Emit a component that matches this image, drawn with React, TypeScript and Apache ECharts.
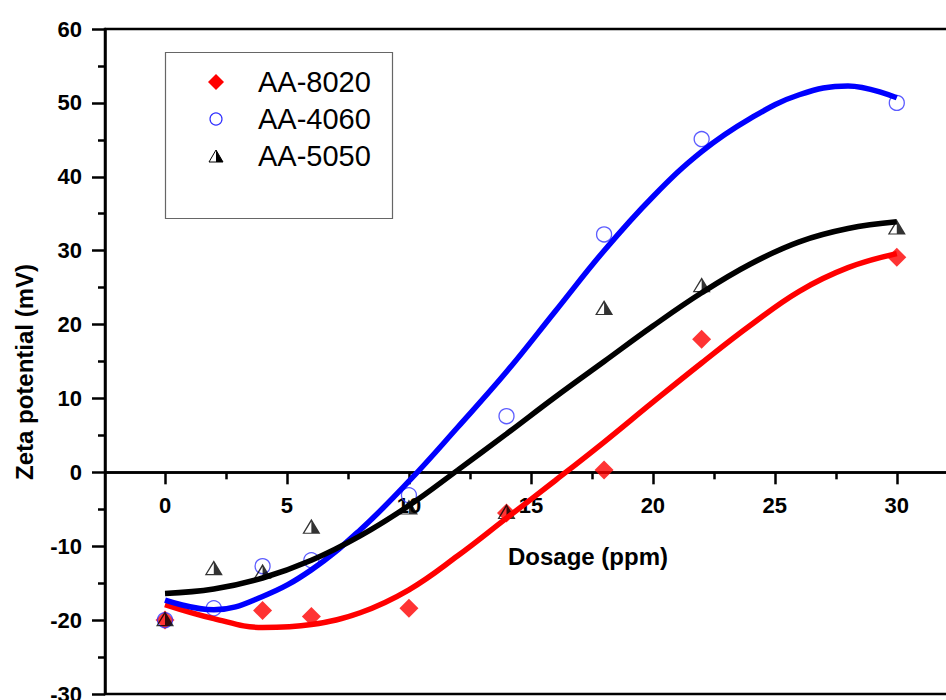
import React, { useEffect, useRef } from "react";
import * as echarts from "echarts";

// Measured points
const dose8020 = [0, 4, 6, 10, 14, 18, 22, 30];
const zeta8020 = [-20, -18.7, -19.5, -18.4, -5.5, 0.3, 18, 29.1];
const dose4060 = [0, 2, 4, 6, 10, 14, 18, 22, 30];
const zeta4060 = [-20, -18.4, -12.7, -11.9, -3.1, 7.6, 32.2, 45.1, 50.0];
const dose5050 = [0, 2, 4, 6, 10, 14, 18, 22, 30];
const zeta5050 = [-19.8, -12.9, -13.4, -7.3, -4.7, -5.3, 22.3, 25.4, 33.2];

// Fitted curves
const fitDose = [0, 2, 4, 6, 8, 10, 12, 14, 16, 18, 20, 22, 24, 26, 28, 30];
const fit8020 = [-17.9, -19.8, -21.0, -20.6, -19.0, -15.9, -11.3, -6.2, -1.1, 4.1, 9.5, 14.8, 19.9, 24.5, 27.7, 29.6];
const fit4060 = [-17.3, -18.6, -16.8, -13.2, -7.8, -1.2, 6.1, 13.6, 21.8, 30.0, 37.3, 43.4, 47.9, 51.1, 52.3, 50.7];
const fit5050 = [-16.4, -15.8, -14.3, -11.9, -8.6, -4.5, 0.3, 5.2, 10.2, 15.0, 19.8, 24.3, 28.2, 31.2, 33.0, 33.9];

const xMajor = [0, 5, 10, 15, 20, 25, 30];
const xMinor = [2.5, 7.5, 12.5, 17.5, 22.5, 27.5];
const yMin = -30;
const yMax = 60;
const seriesNames = ["AA-8020", "AA-4060", "AA-5050"];

const FONT = "'Liberation Sans', Arial, Helvetica, sans-serif";
const HALF_TRI =
  "path://M10,0 L20,20 L0,20 Z M10,3.8 L2.4,18.6 L10,18.6 Z";

const pairs = (xs: number[], ys: number[]) => xs.map((x, i) => [x, ys[i]]);

export default function App() {
  const ref = useRef<HTMLDivElement>(null);
  useEffect(() => {
    if (!ref.current) return;
    const chart = echarts.init(ref.current, undefined, { renderer: "svg" });
    const axisLabel = {
      color: "#000",
      fontFamily: FONT,
      fontWeight: "bold" as const,
      fontSize: 22,
    };
    const lineStyle = { color: "#000", width: 2.5 };
    const xMin = -2.46;
    const xMax = 32.14;
    const gridTop = 29;
    const gridBottom = 6;
    const plotH = 700 - gridTop - gridBottom;
    // move the x axis from the bottom edge up to the y = 0 line
    const zeroOffset = -(plotH * (0 - yMin)) / (yMax - yMin);
    chart.setOption({
      animation: false,
      backgroundColor: "#fff",
      grid: {
        left: 105,
        right: -3,
        top: gridTop,
        bottom: gridBottom,
        show: true,
        borderColor: "#000",
        borderWidth: 2.5,
        containLabel: false,
        outerBoundsMode: "none",
      },
      xAxis: [
        {
          type: "value",
          position: "bottom",
          offset: zeroOffset,
          min: xMin,
          max: xMax,
          axisLine: { show: true, onZero: false, lineStyle },
          axisTick: { show: true, length: 12, customValues: xMajor, lineStyle },
          axisLabel: { ...axisLabel, margin: 22, customValues: xMajor },
          splitLine: { show: false },
        },
        {
          type: "value",
          position: "bottom",
          offset: zeroOffset,
          min: xMin,
          max: xMax,
          axisLine: { show: true, onZero: false, lineStyle },
          axisTick: { show: true, length: 7, customValues: xMinor, lineStyle },
          axisLabel: { show: false },
          splitLine: { show: false },
        },
      ],
      yAxis: {
        type: "value",
        min: yMin,
        max: yMax,
        interval: 10,
        axisLine: { show: true, onZero: false, lineStyle },
        axisTick: { show: true, length: 13, lineStyle },
        minorTick: { show: true, splitNumber: 2, length: 7, lineStyle },
        axisLabel: { ...axisLabel, margin: 23 },
        splitLine: { show: false },
      },
      graphic: [
        {
          type: "text",
          x: 24,
          y: 372,
          rotation: Math.PI / 2,
          style: {
            text: "Zeta potential (mV)",
            fontFamily: FONT,
            fontWeight: "bold",
            fontSize: 24,
            fill: "#000",
            align: "center",
            verticalAlign: "middle",
          },
        },
        {
          type: "text",
          x: 588,
          y: 556,
          style: {
            text: "Dosage (ppm)",
            fontFamily: FONT,
            fontWeight: "bold",
            fontSize: 24,
            fill: "#000",
            align: "center",
            verticalAlign: "middle",
          },
        },
        {
          type: "group",
          z: 100,
          children: [
            {
              type: "rect",
              shape: { x: 165.5, y: 52.5, width: 227, height: 166 },
              style: { fill: "#fff", stroke: "#666", lineWidth: 1.2 },
            },
            {
              type: "polygon",
              shape: { points: [[216, 74], [224, 82], [216, 90], [208, 82]] },
              style: { fill: "#ff0000" },
            },
            {
              type: "circle",
              shape: { cx: 216, cy: 119, r: 6 },
              style: { fill: "none", stroke: "#3333ff", lineWidth: 1.2 },
            },
            {
              type: "polygon",
              shape: { points: [[216, 150], [223, 162], [209, 162]] },
              style: { fill: "#fff", stroke: "#000", lineWidth: 1 },
            },
            {
              type: "polygon",
              shape: { points: [[216, 150], [223, 162], [216, 162]] },
              style: { fill: "#000" },
            },
            ...seriesNames.map((name, i) => ({
              type: "text",
              x: 258,
              y: 82 + i * 37,
              style: {
                text: name,
                fontFamily: FONT,
                fontSize: 29,
                fill: "#000",
                verticalAlign: "middle",
              },
            })),
          ],
        },
      ],
      series: [
        {
          name: seriesNames[0],
          type: "scatter",
          z: 2,
          symbol: "diamond",
          symbolSize: [19, 19],
          itemStyle: { color: "#ff0000" },
          data: pairs(dose8020, zeta8020),
        },
        {
          name: seriesNames[1],
          type: "scatter",
          z: 3,
          symbol: "circle",
          symbolSize: 15,
          itemStyle: { color: "rgba(0,0,0,0)", borderColor: "#3333ff", borderWidth: 1.3 },
          data: pairs(dose4060, zeta4060),
        },
        {
          name: seriesNames[2],
          type: "scatter",
          z: 4,
          symbol: HALF_TRI,
          symbolSize: [18, 15],
          itemStyle: { color: "#000" },
          data: pairs(dose5050, zeta5050),
        },
        {
          name: "fit-8020",
          type: "line",
          z: 5,
          smooth: 0.4,
          showSymbol: false,
          lineStyle: { color: "#ff0000", width: 5.5 },
          data: pairs(fitDose, fit8020),
        },
        {
          name: "fit-4060",
          type: "line",
          z: 5,
          smooth: 0.4,
          showSymbol: false,
          lineStyle: { color: "#0000ff", width: 5.5 },
          data: pairs(fitDose, fit4060),
        },
        {
          name: "fit-5050",
          type: "line",
          z: 5,
          smooth: 0.4,
          showSymbol: false,
          lineStyle: { color: "#000", width: 5.5 },
          data: pairs(fitDose, fit5050),
        },
      ],
    });
    return () => chart.dispose();
  }, []);
  return (
    <div
      ref={ref}
      style={{ position: "fixed", left: 0, top: 0, width: 946, height: 700, background: "#fff" }}
    />
  );
}
